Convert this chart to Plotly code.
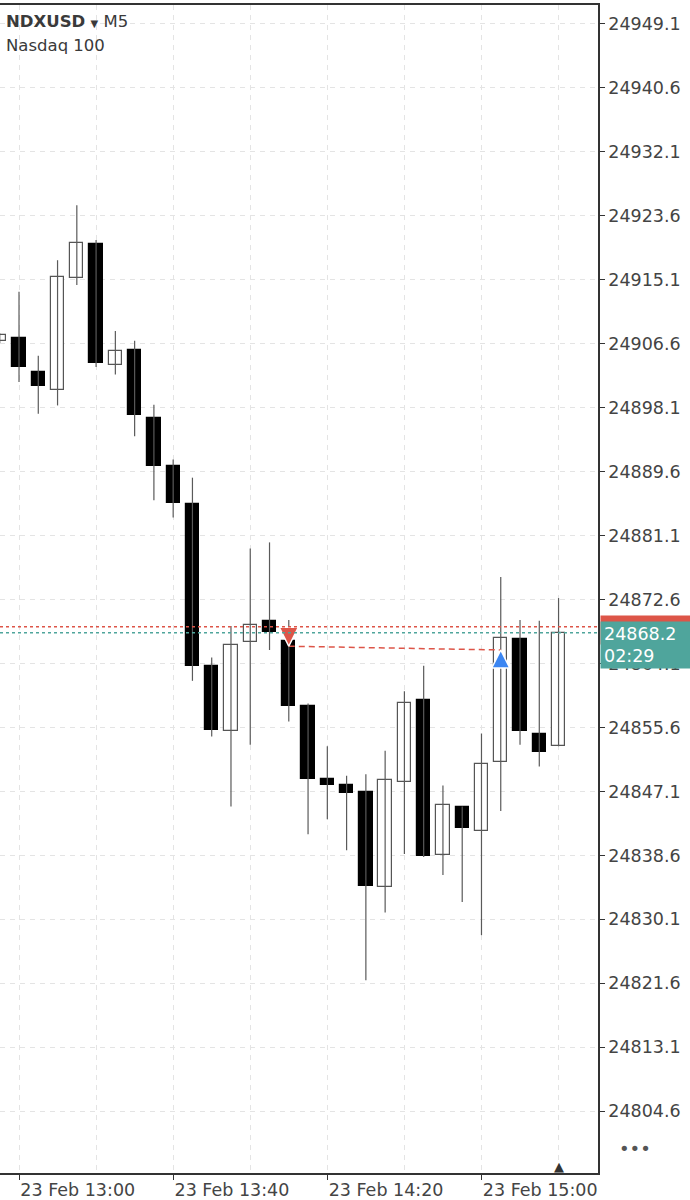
import plotly.graph_objects as go

# ---------------- data ----------------
day = "2026-02-23 "
times = [day + t for t in [
    "12:55", "13:00", "13:05", "13:10", "13:15", "13:20", "13:25", "13:30", "13:35", "13:40",
    "13:45", "13:50", "13:55", "14:00", "14:05", "14:10", "14:15", "14:20", "14:25", "14:30",
    "14:35", "14:40", "14:45", "14:50", "14:55", "15:00", "15:05", "15:10", "15:15", "15:20"]]

opens = [24907.0, 24907.4, 24902.9, 24900.5, 24915.3, 24919.8, 24903.8, 24905.8, 24896.7, 24890.4,
         24885.3, 24863.8, 24855.1, 24866.9, 24869.8, 24867.1, 24858.4, 24848.8, 24847.9, 24847.0,
         24834.4, 24848.4, 24859.3, 24838.6, 24845.0, 24841.8, 24851.0, 24867.4, 24854.8, 24853.1]
highs = [24908.0, 24913.5, 24905.0, 24917.7, 24925.0, 24920.4, 24908.3, 24907.0, 24898.5, 24891.2,
         24888.8, 24864.9, 24869.1, 24879.4, 24880.2, 24869.9, 24858.8, 24853.1, 24849.2, 24849.4,
         24852.5, 24860.4, 24863.8, 24847.9, 24845.1, 24854.8, 24875.6, 24869.9, 24869.8, 24872.8]
lows = [24906.7, 24901.5, 24897.3, 24898.4, 24914.4, 24903.5, 24902.5, 24894.3, 24885.8, 24883.5,
        24861.8, 24854.4, 24845.1, 24853.3, 24865.9, 24856.4, 24841.4, 24843.4, 24839.3, 24822.0,
        24831.0, 24838.8, 24838.4, 24836.0, 24832.4, 24828.0, 24844.5, 24853.3, 24850.4, 24853.1]
closes = [24907.8, 24903.5, 24901.0, 24915.5, 24920.0, 24904.1, 24905.7, 24897.1, 24890.4, 24885.5,
          24863.8, 24855.3, 24866.5, 24869.2, 24868.3, 24858.5, 24848.8, 24848.0, 24846.9, 24834.5,
          24848.6, 24858.8, 24838.5, 24845.3, 24842.3, 24850.8, 24867.5, 24855.1, 24852.4, 24868.2]

y_tick_vals = [24949.1, 24940.6, 24932.1, 24923.6, 24915.1, 24906.6, 24898.1, 24889.6, 24881.1,
               24872.6, 24864.1, 24855.6, 24847.1, 24838.6, 24830.1, 24821.6, 24813.1, 24804.6]
y_tick_labels = ["24949.1", "24940.6", "24932.1", "24923.6", "24915.1", "24906.6", "24898.1",
                 "24889.6", "24881.1", "24872.6", "24864.1", "24855.6", "24847.1", "24838.6",
                 "24830.1", "24821.6", "24813.1", "24804.6"]

symbol_name = "NDXUSD"
timeframe = "M5"
description = "Nasdaq 100"
bid_price = 24868.2
ask_price = 24869.0
countdown = "02:29"

trade_entry_time = day + "14:10"
trade_entry_price = 24866.4
trade_exit_time = day + "15:05"
trade_exit_price = 24865.9

# ---------------- styles ----------------
FONT = "DejaVu Sans"
TXT = "#444444"
AXIS = "#333333"
GRID = "#e4e4e4"
WICK = "#5a5a5a"
RED = "#dd5548"
TEAL = "#4fa59c"
BLUE = "#3b86f2"

wick_x, wick_y = [], []
for t, h, l in zip(times, highs, lows):
    wick_x += [t, t, None]
    wick_y += [l, h, None]

body_base = [min(o, c) for o, c in zip(opens, closes)]
body_len = [max(abs(c - o), 0.08) for o, c in zip(opens, closes)]
body_fill = ["#ffffff" if c >= o else "#000000" for o, c in zip(opens, closes)]
body_edge = ["#555555" if c >= o else "#000000" for o, c in zip(opens, closes)]

fig = go.Figure()
fig.add_trace(go.Scatter(x=wick_x, y=wick_y, mode="lines",
                         line=dict(color=WICK, width=1.2), hoverinfo="skip"))
fig.add_trace(go.Bar(x=times, y=body_len, base=body_base, width=207000,
                     marker=dict(color=body_fill, line=dict(color=body_edge, width=1.2)),
                     hoverinfo="skip"))

# trade line and arrows
fig.add_trace(go.Scatter(x=[trade_entry_time, trade_exit_time],
                         y=[trade_entry_price, trade_exit_price], mode="lines",
                         line=dict(color=RED, width=1.5, dash="6px,4px"), hoverinfo="skip"))
fig.add_trace(go.Scatter(x=[trade_entry_time], y=[trade_entry_price], mode="markers",
                         marker=dict(symbol="arrow-down", size=19, color=RED,
                                     line=dict(color="white", width=1.5)), hoverinfo="skip"))
fig.add_trace(go.Scatter(x=[trade_exit_time], y=[trade_exit_price], mode="markers",
                         marker=dict(symbol="arrow-up", size=18, color=BLUE,
                                     line=dict(color="white", width=1.5)), hoverinfo="skip"))

fig.add_shape(type="line", xref="paper", x0=0, x1=1, yref="y", y0=ask_price, y1=ask_price,
              line=dict(color=RED, width=1.5, dash="dot"))
fig.add_shape(type="line", xref="paper", x0=0, x1=1, yref="y", y0=bid_price, y1=bid_price,
              line=dict(color=TEAL, width=1.5, dash="dot"))

annotations = [
    dict(text=f"<b>{symbol_name}</b> <span style='font-size:10px'>▼</span> {timeframe}",
         xref="paper", yref="paper", x=0.006, y=0.9855, xanchor="left", yanchor="middle",
         showarrow=False, font=dict(family=FONT, size=16.5, color="#3a3a3a")),
    dict(text=description, xref="paper", yref="paper", x=0.006, y=0.9650,
         xanchor="left", yanchor="middle", showarrow=False,
         font=dict(family=FONT, size=16.5, color="#3a3a3a")),
    dict(text=f"{ask_price:.1f}", xref="paper", yref="y", x=1.0033, y=ask_price,
         xanchor="left", yanchor="top", yshift=12, showarrow=False, align="left",
         bgcolor=RED, width=84, height=22, borderpad=3,
         font=dict(family=FONT, size=17.5, color="white")),
    dict(text=f"{bid_price:.1f}<br>{countdown}", xref="paper", yref="y", x=1.0033, y=bid_price,
         xanchor="left", yanchor="top", yshift=12, showarrow=False, align="left",
         bgcolor=TEAL, width=84, height=40, borderpad=3,
         font=dict(family=FONT, size=17.5, color="white")),
    dict(text="•••", xref="paper", yref="paper", x=1.062, y=0.0213, xanchor="center",
         yanchor="middle", showarrow=False, font=dict(family=FONT, size=18, color="#555555")),
    dict(text="▲", xref="x", yref="paper", x=times[-1], y=0, xanchor="center",
         yanchor="bottom", yshift=-3, showarrow=False,
         font=dict(family=FONT, size=13, color="#333333")),
]

fig.update_layout(
    width=690, height=1200,
    margin=dict(l=0, r=92, t=5, b=23),
    paper_bgcolor="white", plot_bgcolor="white",
    showlegend=False, bargap=0,
    font=dict(family=FONT, size=17, color=TXT),
    annotations=annotations,
    hovermode=False,
)
fig.update_xaxes(
    type="date",
    range=[day + "12:55:04", day + "15:30:14"],
    tick0=day + "13:00", dtick=2400000, tickformat="%d %b %H:%M",
    ticks="outside", ticklen=5, tickcolor=AXIS, tickwidth=1.2,
    ticklabelposition="outside right",
    tickfont=dict(family=FONT, size=17.5, color=TXT),
    showline=True, mirror=True, linecolor=AXIS, linewidth=1.5,
    showgrid=True, gridcolor=GRID, griddash="5px,5px", gridwidth=1,
    minor=dict(tick0=day + "13:00", dtick=1200000, showgrid=True, gridcolor=GRID,
               griddash="5px,5px", gridwidth=1, ticks=""),
    zeroline=False, fixedrange=True,
)
fig.update_yaxes(
    side="right",
    range=[24796.39, 24951.62],
    tickvals=y_tick_vals, ticktext=y_tick_labels,
    ticks="outside", ticklen=5, tickcolor=AXIS, tickwidth=1.2,
    tickfont=dict(family=FONT, size=17.5, color=TXT),
    showline=True, linecolor=AXIS, linewidth=1.5,
    showgrid=True, gridcolor=GRID, griddash="5px,5px", gridwidth=1,
    zeroline=False, fixedrange=True,
)

fig.write_html("out.html")
